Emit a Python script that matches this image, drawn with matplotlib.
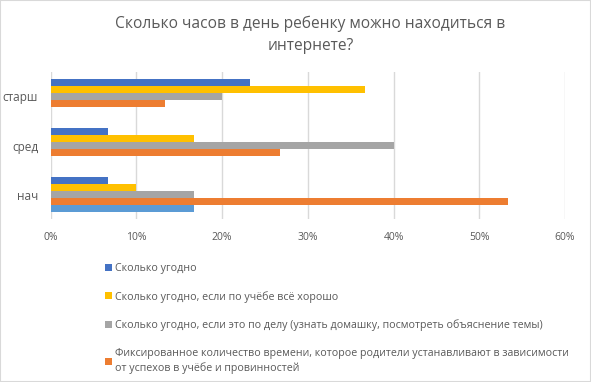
import matplotlib.pyplot as plt
import numpy as np
from matplotlib.patches import Rectangle

plt.rcParams['font.family'] = ['Open Sans', 'DejaVu Sans']

categories = ['нач', 'сред', 'старш']
series_names = [
    'Сколько угодно',
    'Сколько угодно, если по учёбе всё хорошо',
    'Сколько угодно, если это по делу (узнать домашку, посмотреть объяснение темы)',
    'Фиксированное количество времени, которое родители устанавливают в зависимости\nот успехов в учёбе и провинностей',
    '',
]
values = [
    [6.7, 6.7, 23.3],
    [10.0, 16.7, 36.7],
    [16.7, 40.0, 20.0],
    [53.3, 26.7, 13.3],
    [16.7, 0.0, 0.0],
]
colors = ['#4472C4', '#FFC000', '#A5A5A5', '#ED7D31', '#5B9BD5']
xticks = [0, 10, 20, 30, 40, 50, 60]
txt = '#595959'

fig = plt.figure(figsize=(5.91, 3.82), dpi=100)
fig.patches.append(Rectangle((0, 0), 1, 1, transform=fig.transFigure,
                             fill=False, edgecolor='#D9D9D9', lw=1.5))
ax = fig.add_axes([50.7 / 591, 1 - 219 / 382, (565 - 50.7) / 591, (219 - 72) / 382])

y = np.arange(len(categories))
h = 0.143
handles = []
for i, (name, vals, c) in enumerate(zip(series_names, values, colors)):
    off = (2 - i) * h
    b = ax.barh(y + off, vals, height=h, color=c, label=name)
    handles.append(b)

ax.set_xlim(0, 60)
ax.set_ylim(-0.5, 2.5)
ax.set_xticks(xticks)
ax.set_xticklabels([f'{t}%' for t in xticks], color=txt, fontsize=7.5)
ax.set_yticks(y)
ax.set_yticklabels(categories, color=txt, fontsize=8.5)
ax.tick_params(length=0, pad=9)
ax.tick_params(axis='y', pad=9)
ax.grid(axis='x', color='#D9D9D9', lw=1)
ax.set_axisbelow(True)
for s in ax.spines.values():
    s.set_visible(False)

fig.text(0.525, 1 - 35 / 382, 'Сколько часов в день ребенку можно находиться в\nинтернете?',
         ha='center', va='center', fontsize=11.2, color=txt, linespacing=1.45)

leg = fig.legend(handles[:4], series_names[:4], loc='upper left',
                 bbox_to_anchor=(101 / 591, 1 - 259 / 382), frameon=False,
                 fontsize=7.7, labelcolor=txt, handlelength=0.6, handleheight=0.6,
                 handletextpad=0.3, labelspacing=1.55, borderaxespad=0)
for t in leg.get_texts():
    t.set_linespacing(1.45)

fig.savefig('out.png', dpi=100)
